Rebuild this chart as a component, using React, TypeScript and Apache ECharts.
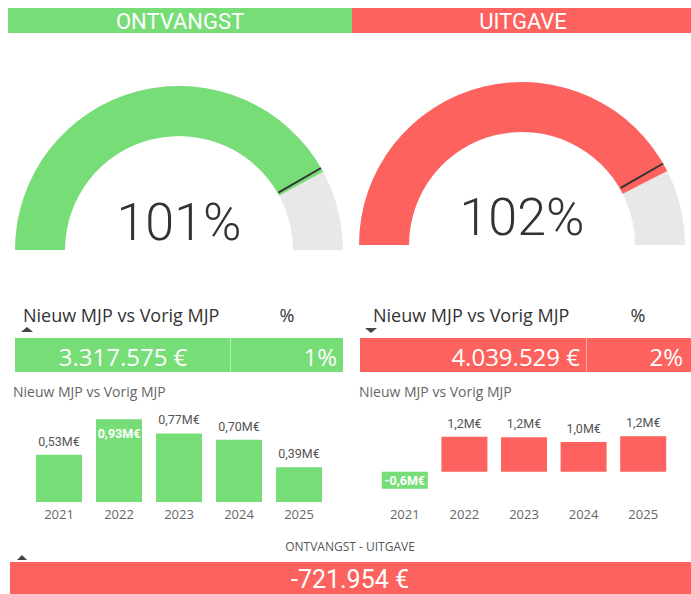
import React, { useEffect, useRef } from "react";
import * as echarts from "echarts";

const GREEN = "#77DD77";
const RED = "#FD625E";
const GREY = "#E8E8E8";

const headers = ["ONTVANGST", "UITGAVE"];
const gaugeValues = [101, 102];
const gaugeTargets = [100, 100];
const gaugeMax = 120;

const diffValues = [3317575, 4039529];
const diffPercents = [1, 2];
const saldoValue = -721954;

const years = ["2021", "2022", "2023", "2024", "2025"];
const ontvangstYear = [0.53, 0.93, 0.77, 0.7, 0.39];
const uitgaveYear = [-0.58, 1.2, 1.18, 1.02, 1.22];

const UI = "'Open Sans', 'Noto Sans', sans-serif";
const NUM = "Roboto, 'Noto Sans', sans-serif";

function fmtEuro(v: number): string {
  const s = Math.abs(Math.round(v)).toString().replace(/\B(?=(\d{3})+(?!\d))/g, ".");
  return (v < 0 ? "-" : "") + s + " €";
}
function fmtM(v: number, d: number): string {
  return v.toFixed(d).replace(".", ",") + "M€";
}

function txt(x: number, y: number, text: string, font: string, fill: string, align = "center") {
  return {
    type: "text",
    x,
    y,
    z: 10,
    style: {
      text,
      font,
      fill,
      align,
      verticalAlign: "middle",
      textAlign: align,
      textVerticalAlign: "middle",
    },
  };
}

export default function App() {
  const ref = useRef<HTMLDivElement>(null);
  useEffect(() => {
    if (!ref.current) return;
    const chart = echarts.init(ref.current, undefined, { renderer: "svg" });

    const gaugeBase = (cx: number, cy: number, r: number) => ({
      type: "gauge",
      center: [cx, cy],
      radius: r,
      startAngle: 180,
      endAngle: 0,
      min: 0,
      max: gaugeMax,
      splitLine: { show: false },
      axisTick: { show: false },
      axisLabel: { show: false },
      title: { show: false },
    });

    const gauges: any[] = [];
    const gPos = [
      [179, 250, 164],
      [522, 245, 163],
    ];
    const colors = [GREEN, RED];
    gPos.forEach((p, i) => {
      gauges.push({
        ...gaugeBase(p[0], p[1], p[2]),
        z: 2,
        axisLine: { lineStyle: { width: 50, color: [[1, GREY]] } },
        progress: { show: true, width: 50, itemStyle: { color: colors[i] } },
        pointer: { show: false },
        detail: {
          show: true,
          offsetCenter: [0, "-17%"],
          formatter: "{value}%",
          fontFamily: NUM,
          fontWeight: 300,
          fontSize: 52,
          color: "#333",
        },
        data: [{ value: gaugeValues[i] }],
      });
      gauges.push({
        ...gaugeBase(p[0], p[1], p[2]),
        z: 8,
        axisLine: { show: true, lineStyle: { width: 1, color: [[1, "rgba(0,0,0,0)"]] } },
        progress: { show: false },
        itemStyle: { color: "#333" },
        pointer: {
          show: true,
          icon: "rect",
          width: 2,
          length: "30%",
          offsetCenter: [0, "-70%"],
          itemStyle: { color: "#333" },
        },
        anchor: { show: false },
        detail: { show: false },
        data: [{ value: gaugeTargets[i], itemStyle: { color: "#333" } }],
      });
    });

    const maxOnt = Math.max(...ontvangstYear);
    const leftData = ontvangstYear.map((v) => ({
      value: v,
      itemStyle: { color: GREEN },
      label:
        v === maxOnt
          ? { position: "insideTop", distance: 8, color: "#fff", fontWeight: "bold" }
          : { position: "top", distance: 7, color: "#555" },
    }));
    const rightData = uitgaveYear.map((v) => ({
      value: v,
      itemStyle: { color: v < 0 ? GREEN : RED },
      label:
        v < 0
          ? { position: "inside", color: "#fff", fontWeight: "bold" }
          : { position: "top", distance: 7, color: "#555" },
    }));

    const xAxisBase = {
      type: "category",
      data: years,
      axisLine: { show: false },
      axisTick: { show: false },
      axisLabel: { color: "#666", fontSize: 13, fontFamily: UI },
    };

    const graphic: any[] = [
      { type: "rect", shape: { x: 8, y: 8, width: 344, height: 25 }, style: { fill: GREEN } },
      { type: "rect", shape: { x: 352, y: 8, width: 339, height: 25 }, style: { fill: RED } },
      txt(180, 21, headers[0], `400 22px ${NUM}`, "#fff"),
      txt(523, 21, headers[1], `400 22px ${NUM}`, "#fff"),

      // table headers
      txt(23, 315, "Nieuw MJP vs Vorig MJP", `400 18px ${UI}`, "#333", "left"),
      txt(287, 315, "%", `400 18px ${UI}`, "#333"),
      { type: "polygon", shape: { points: [[21, 332], [33, 332], [27, 327]] }, style: { fill: "#444" } },
      txt(373, 315, "Nieuw MJP vs Vorig MJP", `400 18px ${UI}`, "#333", "left"),
      txt(638, 315, "%", `400 18px ${UI}`, "#333"),
      { type: "polygon", shape: { points: [[365, 328], [377, 328], [371, 333]] }, style: { fill: "#444" } },

      // table rows
      { type: "rect", shape: { x: 15, y: 338, width: 328, height: 34 }, style: { fill: GREEN } },
      { type: "line", shape: { x1: 230.5, y1: 338, x2: 230.5, y2: 372 }, style: { stroke: "rgba(255,255,255,0.45)", lineWidth: 1 } },
      txt(123, 356, fmtEuro(diffValues[0]), `400 24px ${UI}`, "#fff"),
      txt(337, 356, diffPercents[0] + "%", `400 24px ${UI}`, "#fff", "right"),
      { type: "rect", shape: { x: 360, y: 338, width: 331, height: 34 }, style: { fill: RED } },
      { type: "line", shape: { x1: 586.5, y1: 338, x2: 586.5, y2: 372 }, style: { stroke: "rgba(255,255,255,0.45)", lineWidth: 1 } },
      txt(580, 356, fmtEuro(diffValues[1]), `400 24px ${UI}`, "#fff", "right"),
      txt(683, 356, diffPercents[1] + "%", `400 24px ${UI}`, "#fff", "right"),

      // chart titles
      txt(13, 391, "Nieuw MJP vs Vorig MJP", `400 14px ${UI}`, "#666", "left"),
      txt(359, 391, "Nieuw MJP vs Vorig MJP", `400 14px ${UI}`, "#666", "left"),

      // bottom
      txt(350, 546, "ONTVANGST - UITGAVE", `400 12px ${UI}`, "#555"),
      { type: "polygon", shape: { points: [[17, 560], [27, 560], [22, 555]] }, style: { fill: "#444" } },
      { type: "rect", shape: { x: 10, y: 562, width: 681, height: 40 }, style: { fill: RED } },
      txt(350, 579, fmtEuro(saldoValue), `400 25px ${NUM}`, "#fff"),
    ];

    chart.setOption({
      animation: false,
      graphic,
      grid: [
        { left: 29, top: 413, width: 300, height: 89 },
        { left: 375, top: 428, width: 298, height: 73 },
      ],
      xAxis: [
        { ...xAxisBase, gridIndex: 0, axisLabel: { ...xAxisBase.axisLabel, margin: 5 } },
        { ...xAxisBase, gridIndex: 1, axisLabel: { ...xAxisBase.axisLabel, margin: 6 } },
      ],
      yAxis: [
        { type: "value", gridIndex: 0, min: 0, max: 1, show: false },
        { type: "value", gridIndex: 1, min: -1, max: 1.5, show: false },
      ],
      series: [
        ...gauges,
        {
          type: "bar",
          xAxisIndex: 0,
          yAxisIndex: 0,
          barWidth: 46,
          data: leftData,
          label: {
            show: true,
            fontSize: 12.5,
            fontFamily: NUM,
            formatter: (p: any) => fmtM(p.value, 2),
          },
        },
        {
          type: "bar",
          xAxisIndex: 1,
          yAxisIndex: 1,
          barWidth: 46,
          data: rightData,
          label: {
            show: true,
            fontSize: 12.5,
            fontFamily: NUM,
            formatter: (p: any) => fmtM(p.value, 1),
          },
        },
      ],
    });
    return () => chart.dispose();
  }, []);
  return (
    <div
      ref={ref}
      style={{ position: "absolute", left: 0, top: 0, width: 691, height: 594, background: "#fff" }}
    />
  );
}
